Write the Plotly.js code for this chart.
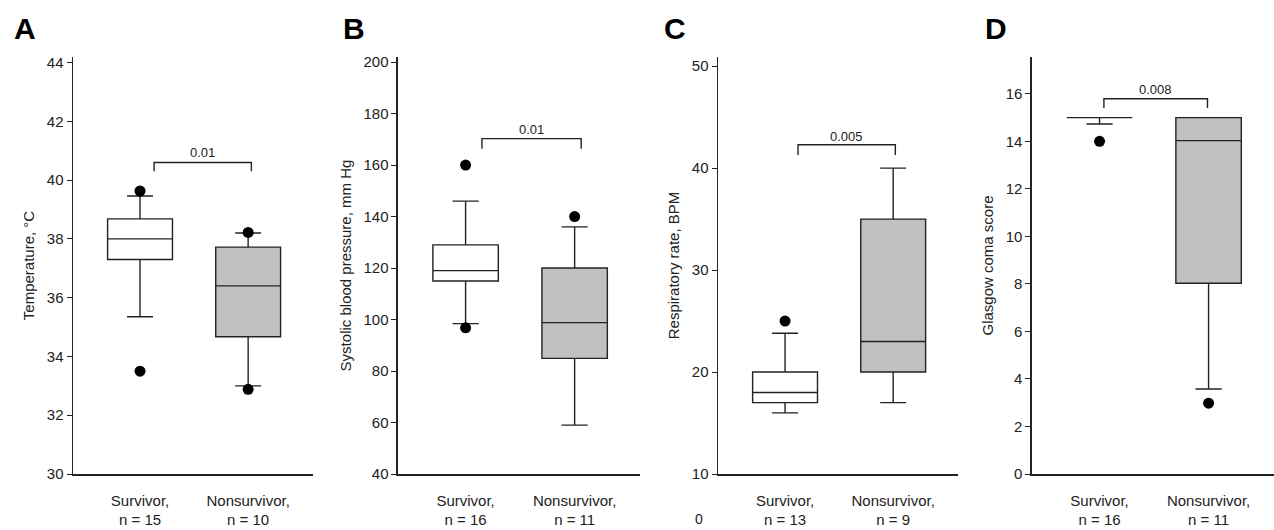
<!DOCTYPE html>
<html>
<head>
<script src="https://cdn.plot.ly/plotly-3.0.1.min.js"></script>
<style>body{margin:0;background:#fff}</style>
</head>
<body>
<div id="chart" style="width:1274px;height:530px"></div>
<script>
// Box summaries: [survivor, nonsurvivor]
var groups = ['Survivor', 'Nonsurvivor'];

var tempQ1 = [37.3, 34.67], tempMed = [38.0, 36.4], tempQ3 = [38.68, 37.72];
var tempLo = [35.35, 33.0], tempHi = [39.46, 38.2];
var tempOutX = [1, 1, 2, 2], tempOutY = [39.63, 33.5, 38.22, 32.88];
var tempN = [15, 10];

var sbpQ1 = [115, 84.9], sbpMed = [119, 98.8], sbpQ3 = [129, 120];
var sbpLo = [98.4, 59], sbpHi = [146, 136];
var sbpOutX = [1, 1, 2], sbpOutY = [160, 96.8, 140];
var sbpN = [16, 11];

var rrQ1 = [17, 20], rrMed = [18, 23], rrQ3 = [20, 35];
var rrLo = [16, 17], rrHi = [23.8, 40];
var rrOutX = [1], rrOutY = [25];
var rrN = [13, 9];

var gcsQ1 = [15, 8.03], gcsMed = [15, 14.03], gcsQ3 = [15, 15];
var gcsLo = [14.73, 3.58], gcsHi = [15, 15];
var gcsOutX = [1, 2], gcsOutY = [14.0, 2.98];
var gcsN = [16, 11];

var pValues = ['0.01', '0.01', '0.005', '0.008'];

var fills = ['#ffffff', '#c0c0c0'];
var data = [];

function addPanel(k, q1, med, q3, lo, hi, outX, outY) {
    var ax = k === 1 ? '' : String(k);
    for (var i = 0; i < 2; i++) {
        data.push({
            type: 'box', x: [i + 1], q1: [q1[i]], median: [med[i]], q3: [q3[i]],
            lowerfence: [lo[i]], upperfence: [hi[i]], width: 0.6, whiskerwidth: 0.4,
            fillcolor: fills[i], line: {color: '#222', width: 1.4},
            xaxis: 'x' + ax, yaxis: 'y' + ax, hoverinfo: 'skip', showlegend: false
        });
    }
    data.push({
        type: 'scatter', mode: 'markers', x: outX, y: outY,
        marker: {color: '#000', size: 11},
        xaxis: 'x' + ax, yaxis: 'y' + ax, hoverinfo: 'skip', showlegend: false
    });
}

addPanel(1, tempQ1, tempMed, tempQ3, tempLo, tempHi, tempOutX, tempOutY);
addPanel(2, sbpQ1, sbpMed, sbpQ3, sbpLo, sbpHi, sbpOutX, sbpOutY);
addPanel(3, rrQ1, rrMed, rrQ3, rrLo, rrHi, rrOutX, rrOutY);
addPanel(4, gcsQ1, gcsMed, gcsQ3, gcsLo, gcsHi, gcsOutX, gcsOutY);

var font = {family: 'Liberation Sans, Arial', size: 14, color: '#222'};

function xAxis(dom, n, anchor) {
    return {
        domain: dom, anchor: anchor, range: [0.38, 2.6],
        tickvals: [1, 2],
        ticktext: [groups[0] + ',<br>n = ' + n[0], groups[1] + ',<br>n = ' + n[1]],
        ticks: '', showline: true, linecolor: '#222', linewidth: 1.5,
        showgrid: false, zeroline: false, ticklabelstandoff: 12,
        tickfont: {family: font.family, size: 15, color: '#222'}
    };
}
function yAxis(range, dtick, title, anchor) {
    return {
        anchor: anchor, range: range, dtick: dtick, tick0: 0,
        ticks: 'outside', ticklen: 5, tickcolor: '#222',
        showline: true, linecolor: '#222', linewidth: 1.5,
        showgrid: false, zeroline: false, tickfont: {family: font.family, size: 15, color: '#222'},
        title: {text: title, font: {family: font.family, size: 15, color: '#222'}, standoff: 8}
    };
}

// significance brackets: [x0, x1, yLeg, yTop, yText]
var brackets = [
    [1.13, 2.03, 40.3, 40.6, 40.95],
    [1.15, 2.06, 166.4, 170.3, 174],
    [1.12, 2.02, 41.3, 42.3, 43.1],
    [1.04, 1.99, 15.4, 15.79, 16.17]
];
var shapes = [], annotations = [];
brackets.forEach(function (b, i) {
    var ax = i === 0 ? '' : String(i + 1);
    shapes.push({
        type: 'path', xref: 'x' + ax, yref: 'y' + ax,
        path: 'M' + b[0] + ',' + b[2] + ' L' + b[0] + ',' + b[3] + ' L' + b[1] + ',' + b[3] + ' L' + b[1] + ',' + b[2],
        line: {color: '#222', width: 1.4}
    });
    annotations.push({
        xref: 'x' + ax, yref: 'y' + ax, x: (b[0] + b[1]) / 2, y: b[4],
        text: pValues[i], showarrow: false, font: {family: font.family, size: 13, color: '#222'}
    });
});

var letters = ['A', 'B', 'C', 'D'], letterX = [12, 341, 662, 983];
letters.forEach(function (l, i) {
    annotations.push({
        xref: 'paper', yref: 'paper', x: letterX[i] / 1274, y: 1 + 28 / 417,
        xanchor: 'left', yanchor: 'middle', text: '<b>' + l + '</b>', showarrow: false,
        font: {family: 'Liberation Sans, Arial', size: 30, color: '#000'}
    });
});
annotations.push({
    xref: 'paper', yref: 'paper', x: 699 / 1274, y: -45 / 417, xanchor: 'center', yanchor: 'middle',
    text: '0', showarrow: false, font: {family: font.family, size: 14, color: '#222'}
});

var layout = {
    width: 1274, height: 530,
    margin: {l: 0, r: 0, t: 57, b: 56},
    paper_bgcolor: '#fff', plot_bgcolor: '#fff', font: font,
    xaxis: xAxis([0.0573, 0.2457], tempN, 'y'),
    yaxis: yAxis([30, 44.19], 2, 'Temperature, °C', 'x'),
    xaxis2: xAxis([0.3124, 0.5024], sbpN, 'y2'),
    yaxis2: yAxis([40, 202], 20, 'Systolic blood pressure, mm Hg', 'x2'),
    xaxis3: xAxis([0.5636, 0.752], rrN, 'y3'),
    yaxis3: yAxis([10, 50.9], 10, 'Respiratory rate, BPM', 'x3'),
    xaxis4: xAxis([0.81, 1.0], gcsN, 'y4'),
    yaxis4: yAxis([0, 17.55], 2, 'Glasgow coma score', 'x4'),
    shapes: shapes, annotations: annotations
};

Plotly.newPlot('chart', data, layout, {staticPlot: true});
</script>
</body>
</html>
